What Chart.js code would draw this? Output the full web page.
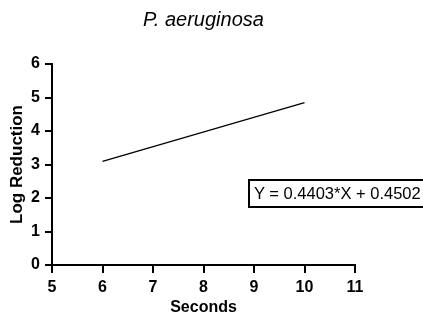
<!DOCTYPE html>
<html>
<head>
<meta charset="utf-8">
<script src="https://cdn.jsdelivr.net/npm/chart.js@4/dist/chart.umd.min.js"></script>
<style>
    body { margin: 0; background: #fff; overflow: hidden; }
    #wrap { position: relative; width: 423px; height: 316px; overflow: hidden; }
    #eq {
        position: absolute; left: 248px; top: 179px; width: 220px; height: 25px;
        border: 2px solid #000; box-sizing: content-box;
        font-family: Arial, 'Liberation Sans', sans-serif; font-size: 16.5px;
        line-height: 25px; padding-left: 4px; white-space: nowrap; color: #000;
    }
</style>
</head>
<body>
<div id="wrap">
    <canvas id="chart" width="423" height="316"></canvas>
    <div id="eq">Y = 0.4403*X + 0.4502</div>
</div>
<script>
const seconds = [6, 10];
const logReduction = [3.09, 4.85];
const xTicks = [5, 6, 7, 8, 9, 10, 11];
const yTicks = [0, 1, 2, 3, 4, 5, 6];

const fontFamily = "Arial, 'Liberation Sans', sans-serif";
Chart.defaults.font.family = fontFamily;
Chart.defaults.color = '#000';

const points = seconds.map((s, i) => ({ x: s, y: logReduction[i] }));
const tickFont = { family: fontFamily, size: 16, weight: 'bold' };

new Chart(document.getElementById('chart'), {
    type: 'line',
    data: {
        datasets: [{
            label: 'P. aeruginosa',
            data: points,
            borderColor: '#000',
            borderWidth: 1.3,
            pointRadius: 0,
            fill: false,
            tension: 0
        }]
    },
    options: {
        responsive: false,
        animation: false,
        layout: { padding: { left: 0, right: 68, top: 0, bottom: 0 } },
        plugins: {
            legend: { display: false },
            tooltip: { enabled: false },
            title: {
                display: true,
                fullSize: false,
                text: 'P. aeruginosa',
                color: '#000',
                font: { family: fontFamily, size: 20, style: 'italic', weight: 'normal', lineHeight: 1.2 },
                padding: { top: 8, bottom: 32 }
            }
        },
        scales: {
            x: {
                type: 'linear',
                min: 5,
                max: 11,
                afterFit: (scale) => { scale.height = 51; },
                afterBuildTicks: (scale) => { scale.ticks = xTicks.map(v => ({ value: v })); },
                ticks: {
                    color: '#000',
                    font: tickFont,
                    padding: 5,
                    maxRotation: 0
                },
                grid: { display: true, drawOnChartArea: false, drawTicks: true, tickLength: 8, color: '#000', lineWidth: 2 },
                border: { display: true, color: '#000', width: 2 },
                title: {
                    display: true,
                    text: 'Seconds',
                    color: '#000',
                    font: { family: fontFamily, size: 16, weight: 'bold', lineHeight: 1 },
                    padding: { top: 0, bottom: 0 }
                }
            },
            y: {
                min: 0,
                max: 6,
                afterFit: (scale) => { scale.width = 52; },
                afterBuildTicks: (scale) => { scale.ticks = yTicks.map(v => ({ value: v })); },
                ticks: {
                    color: '#000',
                    font: tickFont,
                    padding: 5
                },
                grid: { display: true, drawOnChartArea: false, drawTicks: true, tickLength: 7, color: '#000', lineWidth: 2 },
                border: { display: true, color: '#000', width: 2 },
                title: {
                    display: true,
                    text: 'Log Reduction',
                    color: '#000',
                    font: { family: fontFamily, size: 17, weight: 'bold', lineHeight: 1 },
                    padding: { top: 8.5, bottom: 0 }
                }
            }
        }
    }
});
</script>
</body>
</html>
